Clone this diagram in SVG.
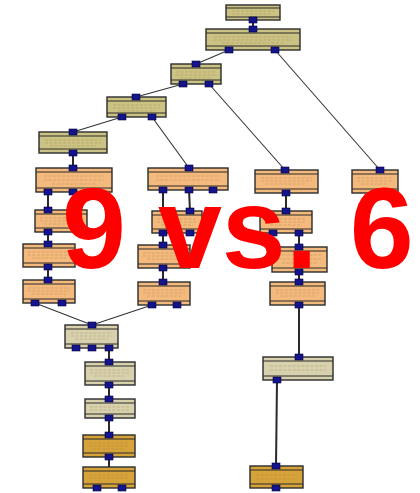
<svg xmlns="http://www.w3.org/2000/svg" width="420" height="493" viewBox="0 0 420 493">
<style>
.b{stroke:#2b2b2b;stroke-width:1.4}
.k{fill:#cbc383}
.o{fill:#f4b97c}
.l{fill:#d8d1ad}
.g{fill:#d6a33a}
.band{fill:none;stroke:#2b2b2b;stroke-width:1}
.t{fill:none;stroke:#9a7a48;stroke-width:1;stroke-dasharray:3 1.5;opacity:0.35}
.p{fill:#14148c;stroke:#05053a;stroke-width:0.6}
.c{fill:none;stroke:#333;stroke-width:1.1}
.v{fill:none;stroke:#2a2a2a;stroke-width:2}
.big{font-family:"Liberation Sans",Arial,sans-serif;font-weight:bold;font-size:115px;fill:#ff0000}
</style>
<defs>
<rect id="port" x="-4" y="-3" width="8" height="6" class="p"/>
</defs>
<rect width="420" height="493" fill="#ffffff"/>
<g id="connectors">
<path class="v" d="M253,20V29"/>
<path class="c" d="M229,50L196,64"/>
<path class="c" d="M275,50L380,170"/>
<path class="c" d="M183,84L136,97"/>
<path class="c" d="M209,84L285,170"/>
<path class="c" d="M122,117L73,132"/>
<path class="c" d="M152,117L189,168"/>
<path class="v" d="M73,153V168"/>
<path class="v" d="M48,192V210"/>
<path class="v" d="M48,232V244"/>
<path class="v" d="M48,267V280"/>
<path class="c" d="M35,303L92,325"/>
<path class="c" d="M152,305L92,325"/>
<path class="v" d="M163,190V211"/>
<path class="v" d="M189,190L190,211"/>
<path class="v" d="M163,233V245"/>
<path class="v" d="M163,268V282"/>
<path class="v" d="M286,193V211"/>
<path class="v" d="M299,233V247"/>
<path class="v" d="M299,272V282"/>
<path class="v" d="M299,305V357"/>
<path class="v" d="M277,380L276,466"/>
<path class="v" d="M109,348V362"/>
<path class="v" d="M109,385V399"/>
<path class="v" d="M109,418V435"/>
<path class="v" d="M109,457V467"/>
</g>
<g id="n1"><rect x="226" y="5" width="54" height="15" class="k b"/><path class="band" d="M226,8H280M226,17H280"/><path class="t" d="M232,11H274M232,14H270"/><use href="#port" x="253" y="20"/></g>
<g id="n2"><rect x="206" y="29" width="94" height="21" class="k b"/><path class="band" d="M206,33H300M206,46H300"/><path class="t" d="M214,37H292M214,40H292M222,43H284"/><use href="#port" x="253" y="29"/><use href="#port" x="229" y="50"/><use href="#port" x="275" y="50"/></g>
<g id="n3"><rect x="171" y="64" width="50" height="20" class="k b"/><path class="band" d="M171,68H221M171,80H221"/><path class="t" d="M176,72H216M176,75H216M180,78H212"/><use href="#port" x="196" y="64"/><use href="#port" x="183" y="84"/><use href="#port" x="209" y="84"/></g>
<g id="n4"><rect x="107" y="97" width="59" height="20" class="k b"/><path class="band" d="M107,101H166M107,113H166"/><path class="t" d="M113,105H160M113,108H160M118,111H155"/><use href="#port" x="136" y="97"/><use href="#port" x="122" y="117"/><use href="#port" x="152" y="117"/></g>
<g id="n5"><rect x="39" y="132" width="68" height="21" class="k b"/><path class="band" d="M39,136H107M39,149H107"/><path class="t" d="M45,140H101M45,143H101M50,146H96"/><use href="#port" x="73" y="132"/><use href="#port" x="73" y="153"/></g>
<g id="a1"><rect x="36" y="168" width="76" height="24" class="o b"/><path class="band" d="M36,172H112M36,188H112"/><path class="t" d="M44,176H104M44,180H104M52,184H96"/><use href="#port" x="73" y="168"/><use href="#port" x="48" y="192"/><use href="#port" x="73" y="192"/></g>
<g id="a2"><rect x="35" y="210" width="52" height="22" class="o b"/><path class="band" d="M35,214H87M35,228H87"/><path class="t" d="M40,218H82M40,221H82M44,224H78"/><use href="#port" x="48" y="210"/><use href="#port" x="48" y="232"/></g>
<g id="a3"><rect x="23" y="244" width="52" height="23" class="o b"/><path class="band" d="M23,248H75M23,263H75"/><path class="t" d="M28,252H70M28,255H70M32,258H66"/><use href="#port" x="48" y="244"/><use href="#port" x="48" y="267"/></g>
<g id="a4"><rect x="23" y="280" width="52" height="23" class="o b"/><path class="band" d="M23,284H75M23,299H75"/><path class="t" d="M28,288H70M28,291H70M32,294H66"/><use href="#port" x="48" y="280"/><use href="#port" x="35" y="303"/><use href="#port" x="62" y="303"/></g>
<g id="b1"><rect x="148" y="168" width="80" height="22" class="o b"/><path class="band" d="M148,172H228M148,186H228"/><path class="t" d="M156,176H220M156,180H220"/><use href="#port" x="189" y="168"/><use href="#port" x="163" y="190"/><use href="#port" x="189" y="190"/><use href="#port" x="213" y="190"/></g>
<g id="b2"><rect x="152" y="211" width="50" height="22" class="o b"/><path class="band" d="M152,215H202M152,229H202"/><path class="t" d="M157,219H197M157,222H197M161,225H193"/><use href="#port" x="190" y="211"/><use href="#port" x="163" y="233"/><use href="#port" x="190" y="233"/></g>
<g id="b3"><rect x="138" y="245" width="52" height="23" class="o b"/><path class="band" d="M138,249H190M138,264H190"/><path class="t" d="M143,253H185M143,256H185M147,259H181"/><use href="#port" x="163" y="245"/><use href="#port" x="163" y="268"/></g>
<g id="b4"><rect x="138" y="282" width="52" height="23" class="o b"/><path class="band" d="M138,286H190M138,301H190"/><path class="t" d="M143,290H185M143,293H185M147,296H181"/><use href="#port" x="163" y="282"/><use href="#port" x="152" y="305"/><use href="#port" x="177" y="305"/></g>
<g id="c1"><rect x="255" y="170" width="63" height="23" class="o b"/><path class="band" d="M255,174H318M255,189H318"/><path class="t" d="M261,178H312M261,181H312M266,184H306"/><use href="#port" x="285" y="170"/><use href="#port" x="286" y="193"/></g>
<g id="c2"><rect x="260" y="211" width="52" height="22" class="o b"/><path class="band" d="M260,215H312M260,229H312"/><path class="t" d="M266,219H306M266,222H306M270,225H302"/><use href="#port" x="286" y="211"/><use href="#port" x="273" y="233"/><use href="#port" x="299" y="233"/></g>
<g id="c3"><rect x="272" y="247" width="55" height="25" class="o b"/><path class="band" d="M272,251H327M272,268H327"/><path class="t" d="M278,255H321M278,259H321M282,263H317"/><use href="#port" x="299" y="247"/><use href="#port" x="299" y="272"/></g>
<g id="c4"><rect x="270" y="282" width="55" height="23" class="o b"/><path class="band" d="M270,286H325M270,301H325"/><path class="t" d="M276,290H319M276,293H319M280,296H315"/><use href="#port" x="299" y="282"/><use href="#port" x="299" y="305"/></g>
<g id="c5"><rect x="263" y="357" width="70" height="23" class="l b"/><path class="band" d="M263,361H333M263,376H333"/><path class="t" d="M270,366H326M270,370H326"/><use href="#port" x="299" y="357"/><use href="#port" x="277" y="380"/></g>
<g id="c6"><rect x="250" y="466" width="53" height="22" class="g b"/><path class="band" d="M250,470H303M250,484H303"/><path class="t" d="M256,475H297M256,479H297"/><use href="#port" x="276" y="466"/><use href="#port" x="276" y="488"/></g>
<g id="d1"><rect x="352" y="170" width="46" height="23" class="o b"/><path class="band" d="M352,174H398M352,189H398"/><path class="t" d="M357,178H393M357,181H393M361,184H389"/><use href="#port" x="380" y="170"/></g>
<g id="m1"><rect x="65" y="325" width="53" height="23" class="l b"/><path class="band" d="M65,329H118M65,344H118"/><path class="t" d="M71,333H112M71,336H112M75,339H108"/><use href="#port" x="92" y="325"/><use href="#port" x="76" y="348"/><use href="#port" x="92" y="348"/><use href="#port" x="109" y="348"/></g>
<g id="m2"><rect x="85" y="362" width="50" height="23" class="l b"/><path class="band" d="M85,366H135M85,381H135"/><path class="t" d="M90,370H130M90,373H130M94,376H126"/><use href="#port" x="109" y="362"/><use href="#port" x="109" y="385"/></g>
<g id="m3"><rect x="85" y="399" width="50" height="19" class="l b"/><path class="band" d="M85,403H135M85,414H135"/><path class="t" d="M90,407H130M90,410H130"/><use href="#port" x="109" y="399"/><use href="#port" x="109" y="418"/></g>
<g id="m4"><rect x="83" y="435" width="52" height="22" class="g b"/><path class="band" d="M83,439H135M83,453H135"/><path class="t" d="M89,443H129M89,446H129M93,449H125"/><use href="#port" x="109" y="435"/><use href="#port" x="109" y="457"/></g>
<g id="m5"><rect x="83" y="467" width="52" height="21" class="g b"/><path class="band" d="M83,471H135M83,484H135"/><path class="t" d="M89,475H129M89,478H129"/><use href="#port" x="97" y="488"/><use href="#port" x="122" y="488"/></g>
<text class="big" x="62" y="268">9 vs. 6</text>
</svg>
